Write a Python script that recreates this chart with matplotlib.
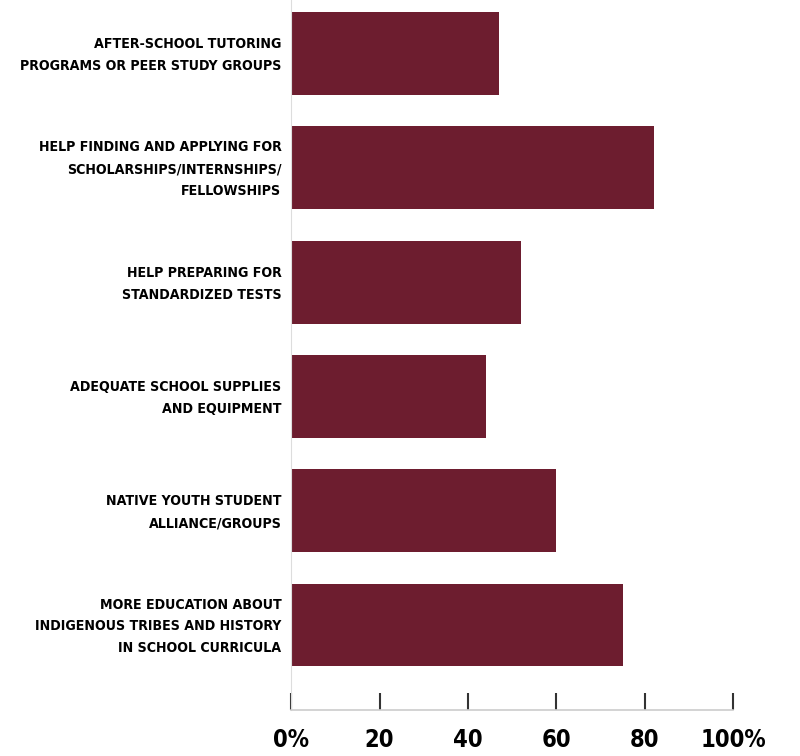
import matplotlib
matplotlib.use("Agg")
import matplotlib.pyplot as plt
from matplotlib.transforms import ScaledTranslation

labels = [
    "AFTER-SCHOOL TUTORING\nPROGRAMS OR PEER STUDY GROUPS",
    "HELP FINDING AND APPLYING FOR\nSCHOLARSHIPS/INTERNSHIPS/\nFELLOWSHIPS",
    "HELP PREPARING FOR\nSTANDARDIZED TESTS",
    "ADEQUATE SCHOOL SUPPLIES\nAND EQUIPMENT",
    "NATIVE YOUTH STUDENT\nALLIANCE/GROUPS",
    "MORE EDUCATION ABOUT\nINDIGENOUS TRIBES AND HISTORY\nIN SCHOOL CURRICULA",
]
values = [47, 82, 52, 44, 60, 75]
ticks = [0, 20, 40, 60, 80, 100]
tick_labels = ["0%", "20", "40", "60", "80", "100%"]

font = "DejaVu Sans"
bar_color = "#6d1d2f"

fig = plt.figure(figsize=(8, 7.56), dpi=100)
ax = fig.add_axes([0.364, 0.0608, 0.5525, 0.9392])

y = list(range(len(values)))
ax.barh(y, values, height=0.726, color=bar_color)

ax.set_xlim(0, 100)
ax.set_ylim(5.744, -0.468)

ax.set_yticks(y)
ax.set_yticklabels(labels, fontfamily=font, fontweight="bold", fontstretch="condensed",
                   fontsize=10.2, linespacing=1.72)
ax.tick_params(axis="y", length=0, pad=7)
# nudge the category labels up a little
up = ScaledTranslation(0, 4 / 100, fig.dpi_scale_trans)
for lab in ax.get_yticklabels():
    lab.set_transform(lab.get_transform() + up)

ax.set_xticks(ticks)
ax.set_xticklabels(tick_labels, fontfamily=font, fontweight="bold", fontstretch="condensed",
                   fontsize=17)
ax.tick_params(axis="x", direction="in", length=12, width=1.5, color="#333333", pad=13)

for s in ["top", "right"]:
    ax.spines[s].set_visible(False)
ax.spines["left"].set_color("#dddddd")
ax.spines["bottom"].set_color("#cccccc")
ax.spines["bottom"].set_linewidth(1.2)

fig.savefig("out.png", dpi=100)
